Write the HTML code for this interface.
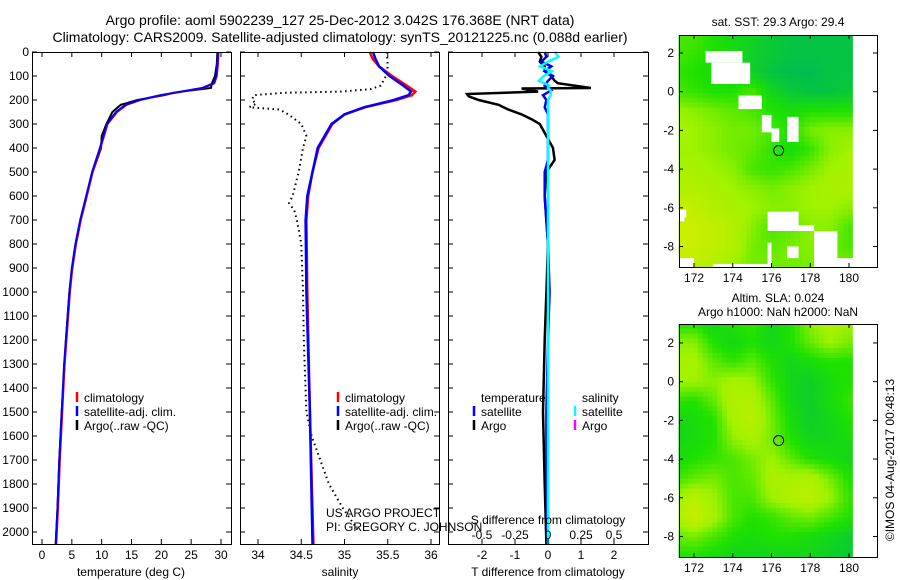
<!DOCTYPE html>
<html><head><meta charset="utf-8"><style>
body{margin:0;background:#fff}
svg{display:block;font-family:"Liberation Sans",sans-serif}
text{font-size:12px;fill:#000}
</style></head><body>
<svg id="s" width="900" height="580" viewBox="0 0 900 580" xmlns="http://www.w3.org/2000/svg">
<text x="340" y="25" text-anchor="middle" style="font-size:14px">Argo profile: aoml 5902239_127 25-Dec-2012 3.042S 176.368E (NRT data)</text>
<text x="340" y="42" text-anchor="middle" style="font-size:14px">Climatology: CARS2009. Satellite-adjusted climatology: synTS_20121225.nc (0.088d earlier)</text>
<text x="778" y="26" text-anchor="middle">sat. SST: 29.3 Argo: 29.4</text>
<text x="778" y="302" text-anchor="middle">Altim. SLA: 0.024</text>
<text x="778" y="316" text-anchor="middle">Argo h1000: NaN h2000: NaN</text>
<text transform="translate(894,460) rotate(-90)" text-anchor="middle">©IMOS 04-Aug-2017 00:48:13</text>
<g id="g"></g>
</svg>
<script>
// ---- data ----
const depthTicks=[0,100,200,300,400,500,600,700,800,900,1000,1100,1200,1300,1400,1500,1600,1700,1800,1900,2000];
const tempTicks=[0,5,10,15,20,25,30];
const salTicks=[34,34.5,35,35.5,36];
const tdTicks=[-2,-1,0,1,2];
const sdTicks=[-0.5,-0.25,0,0.25,0.5];
const tDepth=[0,50,100,130,150,165,180,200,220,250,300,400,500,600,700,800,900,1000,1200,1300,1500,1700,1900,2050];
const tClim=[29.6,29.5,29.3,28.9,27,23.5,20,16.5,14.2,12.6,11,9.8,8.5,7.5,6.5,5.7,5.1,4.7,4.1,3.8,3.4,3.0,2.7,2.4];
const tSat=[29.5,29.4,29.2,28.8,26.8,23.3,19.8,16.3,14,12.4,10.9,9.7,8.4,7.4,6.4,5.6,5.0,4.6,4.0,3.7,3.3,2.9,2.6,2.3];
const aTDepth=[0,50,100,130,150,160,170,180,200,220,250,300,350,400,500,600,700,800,900,1000,1200,1500,1700,1900,2050];
const tArgo=[29.4,29.3,29.0,28.5,28.3,25,22,20.5,16,13.2,11.8,10.8,10.0,9.9,8.5,7.5,6.5,5.7,5.1,4.6,4.0,3.3,2.9,2.6,2.3];
const sDepth=[0,30,60,100,140,165,180,200,230,260,300,400,500,600,700,1000,1500,2050];
const sClim=[35.29,35.33,35.40,35.55,35.72,35.82,35.78,35.6,35.24,35.0,34.86,34.7,34.63,34.58,34.56,34.57,34.6,34.64];
const sSat=[35.33,35.36,35.40,35.52,35.68,35.77,35.74,35.57,35.23,35.0,34.85,34.69,34.63,34.57,34.55,34.56,34.6,34.63];
const aSDepth=[0,60,100,140,155,165,170,180,200,215,230,240,260,300,350,400,500,600,630,660,700,800,1000,1200,1500,1600,1700,1800,1900,1990];
const sArgo=[35.49,35.5,35.48,35.42,35.3,34.95,34.3,33.95,33.93,33.98,33.9,34.25,34.35,34.5,34.56,34.52,34.47,34.4,34.36,34.42,34.45,34.5,34.52,34.53,34.56,34.62,34.72,34.82,34.98,35.15];
const dDepth=[0,20,40,60,80,100,120,140,150,160,180,200,230,260,300,350,400,450,500,600,800,1000,1200,1500,1800,2050];
const dTSat=[-0.1,-0.05,-0.2,0.1,-0.1,0.15,0.0,-0.1,0.05,0.1,-0.15,-0.05,-0.1,0,0,0,0,0,-0.1,-0.1,0,0.05,0,-0.05,-0.05,0];
const dSSat=[0.05,0.08,0.0,-0.06,0.03,-0.03,-0.07,0.01,0.0,0.02,0.02,0.0,0,0,0,0,0,0,0,0,0,0,0,0,0,0];
const aDDepth=[0,20,40,60,80,100,120,130,140,150,152,165,175,185,200,220,240,260,280,300,350,400,450,500,600,800,1000,1200,1500,1800,2050];
const dTArgo=[-0.3,-0.2,-0.25,-0.1,-0.1,0.1,0.2,0.3,0.8,1.3,-0.8,-0.3,-2.45,-2.4,-2.1,-1.5,-1.2,-0.8,-0.5,-0.25,-0.05,0.15,0.2,-0.05,-0.1,0,-0.05,-0.1,-0.15,-0.1,-0.05];
const lats=[3,2,1,0,-1,-2,-3,-4,-5,-6,-7,-8,-9];
const lons=[171,172,173,174,175,176,177,178,179,180,181];
const sst=[[.4,.4,.3,.2,.2,.1,.05,.05,.05,.05,.05],[.4,.35,.3,.25,.15,.1,.05,.05,.05,.05,.05],[.35,.3,.25,.2,.15,.05,0,0,.05,.05,.05],[.4,.35,.3,.3,.4,.2,.1,.05,.05,.1,.1],[.6,.55,.5,.45,.4,.3,.25,.3,.3,.3,.3],[.65,.6,.55,.5,.5,.4,.3,.5,.55,.55,.55],[.6,.6,.55,.5,.45,.35,.25,.35,.55,.6,.6],[.65,.65,.6,.55,.4,.35,.4,.5,.6,.65,.65],[.7,.7,.65,.6,.55,.5,.55,.6,.65,.65,.65],[.8,.8,.7,.65,.6,.55,.55,.6,.6,.55,.55],[.85,.85,.8,.7,.55,.4,.45,.55,.55,.4,.4],[.85,.85,.8,.7,.5,.45,.5,.55,.5,.4,.4],[.8,.8,.7,.6,.5,.5,.5,.5,.5,.5,.5]];
const sla=[[.3,.3,.2,.3,.35,.2,.3,.55,.65,.6,.6],[.55,.55,.3,.2,.3,.2,.3,.45,.6,.5,.5],[.65,.65,.45,.35,.45,.3,.2,.25,.3,.3,.3],[.6,.6,.55,.65,.6,.35,.2,.15,.25,.3,.3],[.35,.3,.45,.7,.7,.45,.2,.15,.25,.35,.35],[.2,.25,.3,.65,.75,.5,.25,.15,.2,.3,.3],[.2,.25,.3,.55,.65,.5,.3,.2,.2,.25,.25],[.25,.3,.35,.4,.5,.6,.45,.3,.25,.2,.2],[.35,.45,.5,.4,.45,.65,.65,.7,.5,.3,.3],[.6,.75,.6,.4,.4,.6,.7,.75,.6,.35,.35],[.65,.85,.65,.4,.3,.35,.45,.5,.4,.3,.3],[.45,.5,.4,.3,.25,.3,.3,.25,.2,.15,.15],[.3,.3,.25,.2,.2,.2,.2,.2,.15,.1,.1]];
const sstMask=[[172.6,174.5,2.1,1.5],[172.9,174.9,1.5,0.4],[174.3,175.5,-0.2,-0.9],[175.5,176.0,-1.2,-2.1],[176.8,177.4,-1.3,-2.6],[176.0,176.4,-1.9,-2.6],[171.2,171.6,-6.1,-6.5],[175.8,177.4,-6.2,-7.2],[177.4,178.2,-6.9,-7.2],[175.8,176.0,-7.8,-9.1],[173.0,175.8,-8.9,-9.1],[171.2,172.0,-8.6,-9.1],[176.8,177.4,-8.0,-8.6],[178.2,179.4,-7.2,-9.1],[178.6,180.2,-8.6,-9.1],[171.2,171.5,-6.5,-6.7]];
const profLon=176.368, profLat=-3.042;
const mapLonTicks=[172,174,176,178,180];
const mapLatTicks=[2,0,-2,-4,-6,-8];

// ---- helpers ----
const NS='http://www.w3.org/2000/svg';const G=document.getElementById('g');
function mk(t,a,p){const e=document.createElementNS(NS,t);for(const k in a)e.setAttribute(k,a[k]);(p||G).appendChild(e);return e;}
function lin(d0,d1,r0,r1){return v=>r0+(v-d0)/(d1-d0)*(r1-r0);}
const Y=lin(0,2050,52,544);
function line(xs,ds,X,col,w,name,dash){const pts=xs.map((v,i)=>X(v).toFixed(1)+','+Y(ds[i]).toFixed(1)).join(' ');
 const e=mk('polyline',{points:pts,fill:'none',stroke:col,'stroke-width':w});if(dash)e.setAttribute('stroke-dasharray',dash);
 
 }
function txt(x,y,s,anchor,name){const e=mk('text',{x:x,y:y,'text-anchor':anchor||'start'});e.textContent=s;
 
 return e;}
function frame(x0,x1,y0,y1,name){const e=mk('rect',{x:x0+.5,y:y0+.5,width:x1-x0,height:y1-y0,fill:'none',stroke:'#000','stroke-width':1});
 
 }
function depthTickMarks(x0,x1,labels){depthTicks.forEach(d=>{const y=Y(d);
 mk('line',{x1:x0,x2:x0+5,y1:y,y2:y,stroke:'#000'});mk('line',{x1:x1-5,x2:x1,y1:y,y2:y,stroke:'#000'});
 if(labels)txt(x0-3,y+4,String(d),'end','depth-tick-label');});}
function xTicks(X,ticks,x0,x1,ybot,fmt,ylab){ticks.forEach(t=>{const x=X(t);
 mk('line',{x1:x,x2:x,y1:ybot,y2:ybot-5,stroke:'#000'});mk('line',{x1:x,x2:x,y1:52,y2:57,stroke:'#000'});
 if(ylab)txt(x,ylab,fmt?fmt(t):String(t),'middle','x-tick-label');});}
function legTick(x,y,col){const e=mk('line',{x1:x,x2:x,y1:y-10,y2:y,stroke:col,'stroke-width':2.5});
 
 }

// ---- panel 1: temperature ----
const XT=lin(0,30,42,221);
line(tArgo,aTDepth,XT,'#000',2,'temp-argo-line');
line(tClim,tDepth,XT,'#f00',2,'temp-climatology-line');
line(tSat,tDepth,XT,'#00f',2,'temp-satellite-line');
frame(32,231,52,544,'temperature-panel');depthTickMarks(32,231,true);
xTicks(XT,tempTicks,32,231,544,null,559);
txt(131,576,'temperature (deg C)','middle','temperature-axis-title');
legTick(77,402,'#f00');txt(84,402,'climatology','start','legend-climatology');
legTick(77,416,'#00f');txt(84,416,'satellite-adj. clim.','start','legend-satellite');
legTick(77,430,'#000');txt(84,430,'Argo(..raw -QC)','start','legend-argo');

// ---- panel 2: salinity ----
const XS=lin(34,35,258,344.5);
line(sArgo,aSDepth,XS,'#000',2,'sal-argo-line','1.5 3.5');
line(sClim,sDepth,XS,'#f00',2.5,'sal-climatology-line');
line(sSat,sDepth,XS,'#00f',2.5,'sal-satellite-line');
frame(240,439,52,544,'salinity-panel');depthTickMarks(240,439,false);
xTicks(XS,salTicks,240,439,544,null,559);
txt(340,576,'salinity','middle','salinity-axis-title');
legTick(338,402,'#f00');txt(345,402,'climatology','start','legend-climatology');
legTick(338,416,'#00f');txt(345,416,'satellite-adj. clim.','start','legend-satellite');
legTick(338,430,'#000');txt(345,430,'Argo(..raw -QC)','start','legend-argo');
txt(326,517,'US ARGO PROJECT','start','project-label');
txt(326,531,'PI: GREGORY C. JOHNSON','start','pi-label');

// ---- panel 3: differences ----
const XD=lin(0,1,548,581);const XSD=lin(0,0.25,548,581);
line(dTArgo,aDDepth,XD,'#000',2.5,'tdiff-argo-line');
line(dTSat,dDepth,XD,'#00f',2.5,'tdiff-satellite-line');
line(dSSat,dDepth,XSD,'#0ff',2.5,'sdiff-satellite-line');
frame(448,648,52,544,'difference-panel');depthTickMarks(448,648,false);
xTicks(XD,tdTicks,448,648,544,null,559);
sdTicks.forEach(t=>txt(XSD(t),539,String(t),'middle','s-tick-label'));
txt(548,524,'S difference from climatology','middle','s-diff-axis-title');
txt(548,576,'T difference from climatology','middle','t-diff-axis-title');
txt(481,402,'temperature','start','legend-temperature');txt(582,402,'salinity','start','legend-salinity');
legTick(474,416,'#00f');txt(481,416,'satellite','start','legend-t-satellite');
legTick(474,430,'#000');txt(481,430,'Argo','start','legend-t-argo');
legTick(575,416,'#0ff');txt(582,416,'satellite','start','legend-s-satellite');
legTick(575,430,'#f0f');txt(582,430,'Argo','start','legend-s-argo');

// ---- maps ----
function col(v){const st=[[0,[0,190,80]],[.3,[30,225,0]],[.6,[160,242,0]],[1,[225,235,0]]];
 for(let i=1;i<st.length;i++){if(v<=st[i][0]){const a=st[i-1],b=st[i],f=(v-a[0])/(b[0]-a[0]);
 return 'rgb('+a[1].map((c,j)=>Math.round(c+(b[1][j]-c)*f)).join(',')+')';}}return 'rgb(225,235,0)';}
function val(M,lon,lat){let fi=(3-lat),fj=(lon-171);fi=Math.max(0,Math.min(11.999,fi));fj=Math.max(0,Math.min(9.999,fj));
 const i=Math.floor(fi),j=Math.floor(fj),a=fi-i,b=fj-j;
 return M[i][j]*(1-a)*(1-b)+M[i+1][j]*a*(1-b)+M[i][j+1]*(1-a)*b+M[i+1][j+1]*a*b;}
function map(M,top,bot,latTop,name,mask){
 const MX=lin(172,180,694,849),MY=lin(2,-8,top+(latTop-2)*19.35,top+(latTop-2)*19.35+193.5);
 const g=mk('g',{});
 const step=0.25;
 for(let lat=latTop;lat>-9.1;lat-=step){for(let lon=171.2;lon<180.2;lon+=step){
  const y0=MY(lat),y1=Math.min(bot,MY(lat-step));if(y0>=bot)continue;
  const c=mk('rect',{x:MX(lon).toFixed(1),y:y0.toFixed(1),width:(MX(lon+step)-MX(lon)+0.6).toFixed(1),height:(y1-y0+0.6).toFixed(1),fill:col(val(M,lon+step/2,lat-step/2))},g);}}
 if(mask)mask.forEach(m=>{const e=mk('rect',{x:MX(m[0]),y:MY(m[2]),width:MX(m[1])-MX(m[0]),height:MY(m[3])-MY(m[2]),fill:'#fff'},g);
  });
 mk('rect',{x:MX(180.2),y:top,width:878-MX(180.2),height:bot-top,fill:'#fff'},g);
 const c=mk('circle',{cx:MX(profLon),cy:MY(profLat),r:5,fill:'none',stroke:'#000'});
 
 frame(679,877,top,bot,name+'-frame');
 mapLonTicks.forEach(t=>{const x=MX(t);mk('line',{x1:x,x2:x,y1:bot,y2:bot-4,stroke:'#000'});mk('line',{x1:x,x2:x,y1:top,y2:top+4,stroke:'#000'});
  txt(x,bot+15,String(t),'middle','map-lon-label');});
 mapLatTicks.forEach(t=>{const y=MY(t);mk('line',{x1:679,x2:683,y1:y,y2:y,stroke:'#000'});mk('line',{x1:873,x2:877,y1:y,y2:y,stroke:'#000'});
  txt(674,y+4,String(t),'end','map-lat-label');});
}
map(sst,35,267,2.93,'sst-map',sstMask);
map(sla,324,557,2.98,'sla-map',null);
</script>
</body></html>
